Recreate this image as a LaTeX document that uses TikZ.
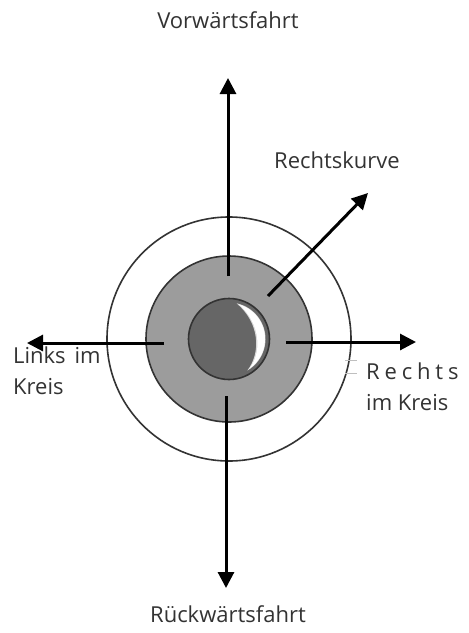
\documentclass[tikz,border=0pt]{standalone}
\usepackage{fontspec}
\setmainfont{Open Sans}
\usetikzlibrary{arrows.meta}
\definecolor{midgray}{HTML}{9C9C9C}
\definecolor{darkgray2}{HTML}{666666}
\definecolor{rimcol}{HTML}{333333}
\begin{document}
\begin{tikzpicture}[x=1pt,y=-1pt,
  ring/.style={circle,draw=rimcol,line width=1.6pt,inner sep=0pt},
  arr/.style={line width=3pt,-{Triangle[length=16pt,width=16pt]}},
  lbl/.style={font=\fontsize{22}{31}\selectfont,text=black!80,inner sep=0pt}]
\useasboundingbox (0,0) rectangle (469,633);
\node[ring,fill=white,minimum size=244pt] (outer) at (229,339) {};
\node[ring,fill=midgray,minimum size=166pt] (mid) at (229,339) {};
\node[ring,fill=darkgray2,minimum size=81pt] (inner) at (229,339) {};
% highlight crescent
\fill[black!15]
  ([shift={(78:36.5pt)}]inner.center)
  arc[start angle=78, end angle=-60, radius=36.5pt]
  .. controls ([shift={(32pt,-14pt)}]inner.center) and ([shift={(31pt,16pt)}]inner.center)
  .. cycle;
\fill[white]
  ([shift={(74:36pt)}]inner.center)
  arc[start angle=74, end angle=-56, radius=36pt]
  .. controls ([shift={(33pt,-14pt)}]inner.center) and ([shift={(32pt,15pt)}]inner.center)
  .. cycle;
% arrow endpoints
\coordinate (upS) at (228,276);
\coordinate (upE) at (228,78);
\coordinate (dnS) at (226,396);
\coordinate (dnE) at (226,588);
\coordinate (ltS) at (164,343);
\coordinate (ltE) at (27,343);
\coordinate (rtS) at (286,342);
\coordinate (rtE) at (416,342);
\coordinate (dgS) at (268,296);
\coordinate (dgE) at (368,193);
\draw[arr] (upS) -- (upE);
\draw[arr] (dnS) -- (dnE);
\draw[arr] (ltS) -- (ltE);
\draw[arr] (rtS) -- (rtE);
\draw[arr] (dgS) -- (dgE);
% small gray ticks
\coordinate (t1a) at (345,360); \coordinate (t1b) at (357,360);
\coordinate (t2a) at (345,373); \coordinate (t2b) at (357,373);
\draw[black!25,line width=0.8pt] (t1a) -- (t1b);
\draw[black!25,line width=0.8pt] (t2a) -- (t2b);
% labels
\node[lbl] (vor) at (228,20) {Vorwärtsfahrt};
\node[lbl] (rk) at (337,160) {Rechtskurve};
\node[lbl] (rueck) at (228,614) {Rückwärtsfahrt};
\node[lbl,align=left,anchor=west] (links) at (13,371) {Links\hspace{0.4em}im\\Kreis};
\node[lbl,align=left,anchor=west] (rechts) at (366,387) {{\addfontfeatures{LetterSpace=22}Rechts}\\im Kreis};
\end{tikzpicture}
\end{document}
